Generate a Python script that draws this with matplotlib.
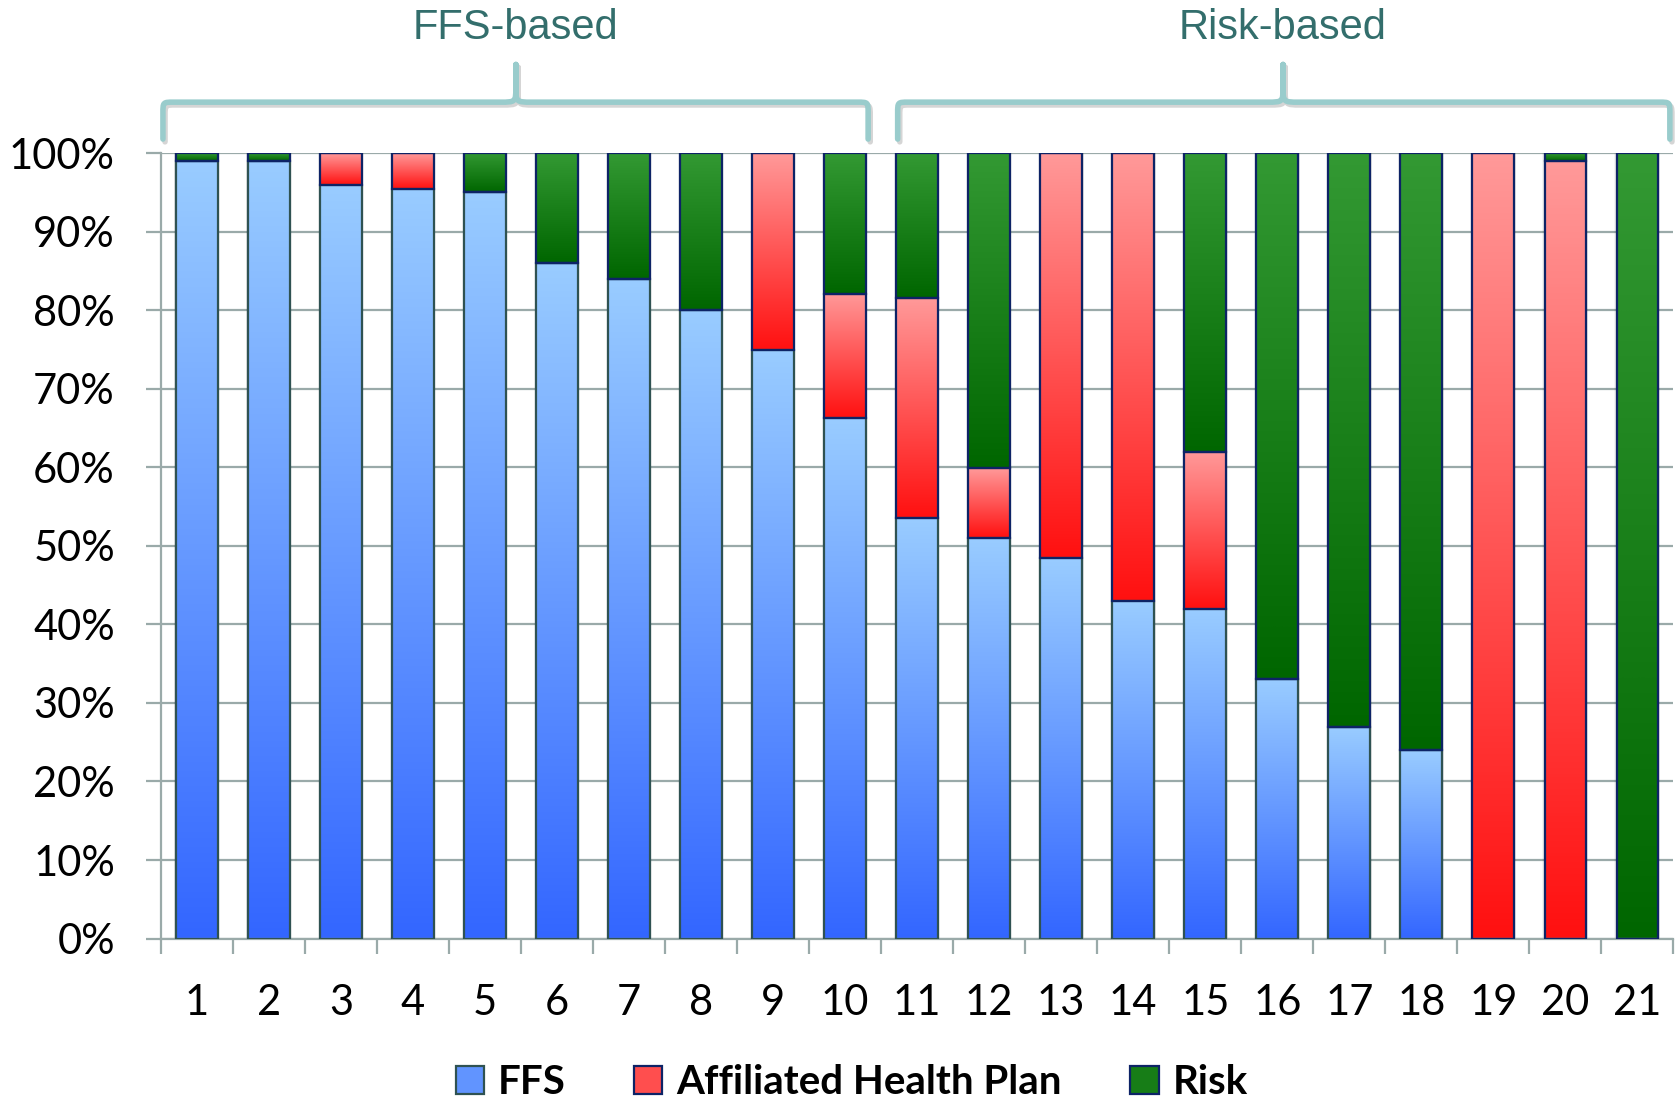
import numpy as np
import matplotlib
matplotlib.use("Agg")
import matplotlib.pyplot as plt
import matplotlib.patheffects as pe
from matplotlib.colors import LinearSegmentedColormap
from matplotlib.patches import Patch, Rectangle
from matplotlib.path import Path
from matplotlib.patches import PathPatch

# shares per practice, in percent
practices = list(range(1, 22))
ffs = [99, 99, 96, 95.5, 95, 86, 84, 80, 75, 66.3, 53.6, 51, 48.4, 43, 42, 33, 27, 24, 0, 0, 0]
ahp = [0, 0, 4, 4.5, 0, 0, 0, 0, 25, 15.8, 28, 8.9, 51.6, 57, 20, 0, 0, 0, 100, 99, 0]
risk = [1, 1, 0, 0, 5, 14, 16, 20, 0, 17.9, 18.4, 40.1, 0, 0, 38, 67, 73, 76, 0, 1, 100]
y_ticks = [0, 10, 20, 30, 40, 50, 60, 70, 80, 90, 100]
groups = ["FFS-based", "Risk-based"]

plt.rcParams['font.family'] = ['Lato', 'DejaVu Sans']

series = [
    ("FFS", ffs, "#3366ff", "#99ccff", "#2f5252"),
    ("Affiliated Health Plan", ahp, "#ff1010", "#ff9999", "#0d2366"),
    ("Risk", risk, "#006600", "#339933", "#0d2366"),
]

fig = plt.figure(figsize=(16.8, 10.99), dpi=100)
ax = fig.add_axes([0.0957, 0.146, 0.9004, 0.7146])

width = 0.58
grad = np.linspace(1, 0, 256).reshape(-1, 1)
bottoms = np.zeros(len(practices))

# soft shadow behind each column
for x in practices:
    for k, (dx, a) in enumerate([(0.06, 0.04), (0.04, 0.06), (0.02, 0.08)]):
        ax.add_patch(Rectangle((x - width / 2 - dx / 2, -0.3 - k * 0.1), width + dx, 100.6,
                               facecolor="black", alpha=a, edgecolor="none", zorder=1.5))

for name, vals, dark, light, edge in series:
    cmap = LinearSegmentedColormap.from_list(name, [dark, light])
    for i, (x, h) in enumerate(zip(practices, vals)):
        if h <= 0:
            continue
        b = bottoms[i]
        ax.imshow(grad, cmap=cmap, aspect="auto", interpolation="bicubic",
                  extent=[x - width / 2, x + width / 2, b, b + h], zorder=2)
    ax.bar(practices, vals, width=width, bottom=bottoms, facecolor="none",
           edgecolor=edge, linewidth=1.6, zorder=3)
    bottoms += np.array(vals)

ax.set_xlim(0.5, 21.5)
ax.set_ylim(0, 100)

grid_c = "#9aaaa9"
ax.set_yticks(y_ticks)
ax.set_yticklabels([f"{v}%" for v in y_ticks], fontsize=30)
ax.yaxis.grid(True, color=grid_c, linewidth=1.6)
ax.set_axisbelow(True)
ax.tick_params(axis="y", length=11, width=1.6, color=grid_c, pad=22)

ax.set_xticks(practices)
ax.set_xticklabels([str(p) for p in practices], fontsize=30)
ax.set_xticks(np.arange(0.5, 22, 1), minor=True)
ax.tick_params(axis="x", which="major", length=0, pad=33)
ax.tick_params(axis="x", which="minor", length=11, width=1.6, color=grid_c)

for s in ["top", "right"]:
    ax.spines[s].set_visible(False)
for s in ["left", "bottom"]:
    ax.spines[s].set_color(grid_c)
    ax.spines[s].set_linewidth(1.6)


def brace(x0, x1, xm, y0=101.8, y1=106.5, y2=111.3, rx=0.15, ry=1.4, cx=0.22, cy=2.0):
    verts = [
        (x0, y0), (x0, y1 - ry),
        (x0, y1), (x0, y1), (x0 + rx, y1),
        (xm - cx, y1),
        (xm, y1), (xm, y1), (xm, y1 + cy),
        (xm, y2),
        (xm, y1 + cy),
        (xm, y1), (xm, y1), (xm + cx, y1),
        (x1 - rx, y1),
        (x1, y1), (x1, y1), (x1, y1 - ry),
        (x1, y0),
    ]
    codes = [Path.MOVETO, Path.LINETO,
             Path.CURVE4, Path.CURVE4, Path.CURVE4,
             Path.LINETO,
             Path.CURVE4, Path.CURVE4, Path.CURVE4,
             Path.LINETO,
             Path.LINETO,
             Path.CURVE4, Path.CURVE4, Path.CURVE4,
             Path.LINETO,
             Path.CURVE4, Path.CURVE4, Path.CURVE4,
             Path.LINETO]
    p = PathPatch(Path(verts, codes), facecolor="none", edgecolor="#99cccc",
                  linewidth=4, capstyle="round", joinstyle="round", clip_on=False, zorder=4)
    p.set_path_effects([pe.SimpleLineShadow(offset=(1.5, -2), shadow_color="#888888", alpha=0.35),
                        pe.Normal()])
    ax.add_patch(p)


brace(0.53, 10.32, 5.43)
brace(10.73, 21.45, 16.08)
for label, xm in zip(groups, [5.43, 16.08]):
    ax.text(xm, 116.0, label, ha="center", va="center", fontsize=30, color="#336e6c",
            family=["Liberation Sans Narrow", "Liberation Sans", "DejaVu Sans"], clip_on=False)

handles = [Patch(edgecolor=edge, linewidth=1.6) for _, _, _, _, edge in series]
for h, (_, _, dark, light, _) in zip(handles, series):
    h.set_facecolor(LinearSegmentedColormap.from_list("m", [dark, light])(0.45))
fig.legend(handles, [s[0] for s in series], loc="center", bbox_to_anchor=(0.507, 0.015),
           ncol=3, frameon=False, prop={"size": 29, "weight": "bold"},
           handlelength=0.7, handleheight=0.7, handletextpad=0.35, columnspacing=1.7)

fig.savefig("out.png", dpi=100)
